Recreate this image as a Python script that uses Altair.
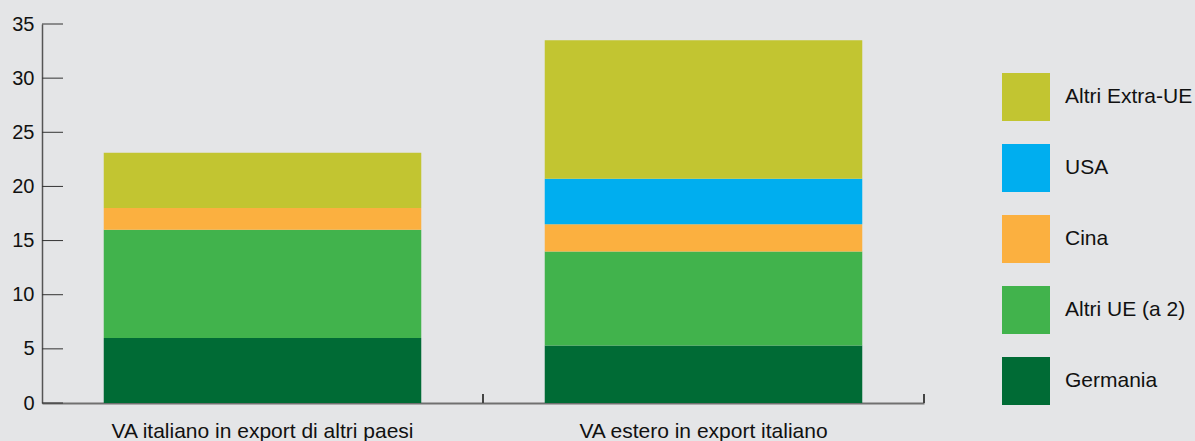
import altair as alt
import pandas as pd

categories = ["VA italiano in export di altri paesi", "VA estero in export italiano"]
series = ["Germania", "Altri UE (a 2)", "Cina", "USA", "Altri Extra-UE"]
germania = [6.0, 5.3]
altri_ue = [10.0, 8.7]
cina = [2.0, 2.5]
usa = [0.0, 4.2]
altri_extra_ue = [5.1, 12.8]
series_colors = ["#006b35", "#41b34c", "#fbb040", "#00aeef", "#c2c531"]
y_ticks = [0, 5, 10, 15, 20, 25, 30, 35]
category_boundaries = [1, 2]

values_by_series = [germania, altri_ue, cina, usa, altri_extra_ue]
rows = []
for si, (s, vals) in enumerate(zip(series, values_by_series)):
    for ci, c in enumerate(categories):
        rows.append({"cat": c, "series": s, "value": vals[ci], "ord": si})
df = pd.DataFrame(rows)
tick_df = pd.DataFrame({"value": y_ticks})
bound_df = pd.DataFrame({"b": category_boundaries})

FONT = "Liberation Sans"
TEXT = "#111111"
legend_order = list(reversed(series))
legend_colors = list(reversed(series_colors))

x_scale = alt.Scale(paddingInner=0.28, paddingOuter=0.14)
y_scale = alt.Scale(domain=[0, 35], nice=False)

y_axis = alt.Axis(title=None, values=y_ticks, ticks=False, tickSize=0, grid=False,
                  labelFontSize=20, labelFont=FONT, labelColor=TEXT,
                  labelPadding=8, domainColor="#555555", domainWidth=1.5)

bars = alt.Chart(df).mark_bar().encode(
    x=alt.X("cat:N", sort=categories, scale=x_scale,
            axis=alt.Axis(title=None, labelAngle=0, labelFontSize=21, labelFont=FONT,
                          labelColor=TEXT, labelPadding=17, ticks=False, tickSize=0,
                          domainColor="#707070", domainWidth=2, labelLimit=400)),
    y=alt.Y("value:Q", stack="zero", scale=y_scale, axis=y_axis),
    color=alt.Color("series:N", scale=alt.Scale(domain=legend_order, range=legend_colors),
                    legend=alt.Legend(title=None, orient="none", legendX=960, legendY=49,
                                      symbolType="square", symbolSize=2304,
                                      symbolStrokeWidth=0, symbolOpacity=1,
                                      labelFontSize=21, labelFont=FONT, labelColor=TEXT,
                                      labelOffset=15, rowPadding=23, labelLimit=300)),
    order=alt.Order("ord:Q"),
)

y_tick_marks = alt.Chart(tick_df).mark_rule(color="#333333", strokeWidth=1).encode(
    y=alt.Y("value:Q", scale=y_scale, axis=y_axis),
    x=alt.value(0),
    x2=alt.value(21),
)

x_tick_marks = alt.Chart(bound_df).mark_rule(color="#444444", strokeWidth=2).encode(
    x=alt.X("b:Q", scale=alt.Scale(domain=[0, 2], nice=False), axis=None),
    y=alt.value(370),
    y2=alt.value(379),
)

chart = alt.layer(bars, y_tick_marks, x_tick_marks).resolve_scale(
    x="independent"
).properties(
    width=882, height=379,
    autosize=alt.AutoSizeParams(type="none"),
    padding={"left": 42, "top": 24, "right": 271, "bottom": 38},
    background="#e4e5e7",
).configure_view(stroke=None)

chart.save("out.html", embed_options={"renderer": "svg", "actions": False})
